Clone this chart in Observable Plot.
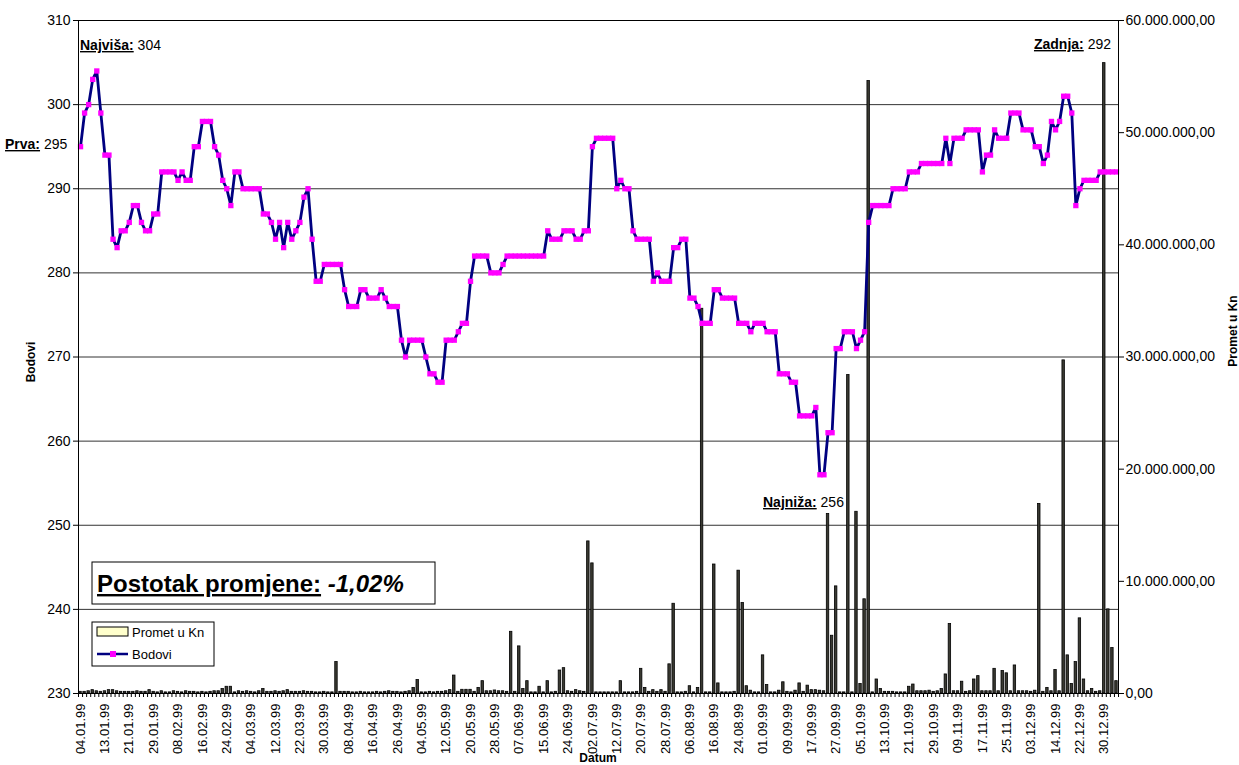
<!DOCTYPE html>
<html><head><meta charset="utf-8">
<script src="https://cdn.jsdelivr.net/npm/d3@7"></script>
<script src="https://cdn.jsdelivr.net/npm/@observablehq/plot@0.6"></script>
<style>body{margin:0;background:#fff} svg{display:block}</style>
</head><body><div id="chart"></div>
<script>
// Bodovi (index points), one per trading day
const bodovi = [
295,299,300,303,304,299,294,294,284,283,
285,285,286,288,288,286,285,285,287,287,
292,292,292,292,291,292,291,291,295,295,
298,298,298,295,294,291,290,288,292,292,
290,290,290,290,290,287,287,286,284,286,
283,286,284,285,286,289,290,284,279,279,
281,281,281,281,281,278,276,276,276,278,
278,277,277,277,278,277,276,276,276,272,
270,272,272,272,272,270,268,268,267,267,
272,272,272,273,274,274,279,282,282,282,
282,280,280,280,281,282,282,282,282,282,
282,282,282,282,282,285,284,284,284,285,
285,285,284,284,285,285,295,296,296,296,
296,296,290,291,290,290,285,284,284,284,
284,279,280,279,279,279,283,283,284,284,
277,277,276,274,274,274,278,278,277,277,
277,277,274,274,274,273,274,274,274,273,
273,273,268,268,268,267,267,263,263,263,
263,264,256,256,261,261,271,271,273,273,
273,271,272,273,286,288,288,288,288,288,
290,290,290,290,292,292,292,293,293,293,
293,293,293,296,293,296,296,296,297,297,
297,297,292,294,294,297,296,296,296,299,
299,299,297,297,297,295,295,293,294,298,
297,298,301,301,299,288,290,291,291,291,
291,292,292,292,292,292
];
// Promet u Kn, in millions of kuna
const prometMil = [
0.15,0.15,0.2,0.3,0.2,0.15,0.2,0.3,0.3,0.2,
0.15,0.15,0.15,0.15,0.2,0.15,0.15,0.3,0.15,0.1,
0.2,0.1,0.1,0.2,0.15,0.1,0.2,0.15,0.15,0.1,
0.15,0.1,0.15,0.2,0.2,0.4,0.6,0.6,0.1,0.2,
0.15,0.2,0.15,0.1,0.2,0.4,0.15,0.15,0.2,0.15,
0.2,0.3,0.15,0.15,0.15,0.2,0.15,0.15,0.1,0.1,
0.15,0.1,0.1,2.8,0.15,0.15,0.15,0.1,0.1,0.15,
0.1,0.1,0.1,0.15,0.1,0.15,0.2,0.15,0.15,0.1,
0.15,0.2,0.5,1.2,0.1,0.1,0.15,0.1,0.15,0.15,
0.2,0.3,1.6,0.15,0.33,0.33,0.33,0.15,0.5,1.1,
0.2,0.2,0.27,0.2,0.2,0.15,5.5,0.15,4.2,0.4,
1.1,0.1,0.1,0.6,0.1,1.1,0.1,0.15,2.05,2.26,
0.2,0.15,0.3,0.2,0.15,13.56,11.6,0.1,0.1,0.1,
0.1,0.1,0.1,1.1,0.1,0.1,0.1,0.15,2.2,0.5,
0.15,0.3,0.15,0.3,0.15,2.6,8.0,0.1,0.1,0.15,
0.65,0.1,0.5,34.3,0.1,0.1,11.5,0.9,0.1,0.1,
0.1,0.15,10.95,8.07,0.65,0.25,0.1,0.1,3.4,0.75,
0.1,0.1,0.25,1.0,0.15,0.1,0.25,0.9,0.15,0.7,
0.3,0.3,0.25,0.2,16.0,5.15,9.55,0.1,0.1,28.4,
0.1,16.2,0.85,8.4,54.6,0.1,1.25,0.4,0.15,0.15,
0.15,0.1,0.1,0.1,0.6,0.8,0.2,0.2,0.2,0.25,
0.15,0.2,0.4,1.7,6.2,0.2,0.2,1.05,0.15,0.2,
1.25,1.55,0.2,0.2,0.2,2.2,0.2,2.0,1.8,0.2,
2.5,0.2,0.2,0.2,0.15,0.25,16.9,0.15,0.5,0.2,
2.1,0.2,29.7,3.4,0.85,2.8,6.7,1.25,0.2,0.4,
0.15,0.2,56.2,7.5,4.05,1.1
];
// Date labels, shown every 6th trading day
const dateLabels = ["04.01.99","13.01.99","21.01.99","29.01.99","08.02.99","16.02.99","24.02.99","04.03.99","12.03.99","22.03.99","30.03.99","08.04.99","16.04.99","26.04.99","04.05.99","12.05.99","20.05.99","28.05.99","07.06.99","15.06.99","24.06.99","02.07.99","12.07.99","20.07.99","28.07.99","06.08.99","16.08.99","24.08.99","01.09.99","09.09.99","17.09.99","27.09.99","05.10.99","13.10.99","21.10.99","29.10.99","09.11.99","17.11.99","25.11.99","03.12.99","14.12.99","22.12.99","30.12.99"];
const labelStep = 6;
const leftTicks = [230,240,250,260,270,280,290,300,310];
const rightTicksMil = [0,10,20,30,40,50,60];

const yMin = 230, yMax = 310, pMax = 60;
const toY = m => yMin + m / pMax * (yMax - yMin);
const fromY = y => (y - yMin) / (yMax - yMin) * pMax;
const fmtKn = m => d3.format(",")(Math.round(m * 1e6)).replace(/,/g, ".") + ",00";

const data = bodovi.map((b, i) => ({i, b, p: prometMil[i]}));
const N = bodovi.length;
const font = "Arial, 'Liberation Sans', sans-serif";

const chart = Plot.plot({
  width: 1239, height: 765,
  marginLeft: 78, marginRight: 121, marginTop: 20, marginBottom: 72,
  style: {fontFamily: font, fontSize: "14px", background: "#fff", color: "#000", overflow: "visible"},
  x: {domain: [-0.5, N - 0.5], axis: null},
  y: {domain: [yMin, yMax], axis: null},
  marks: [
    Plot.gridY(leftTicks.slice(1, -1), {stroke: "#333", strokeOpacity: 1, strokeWidth: 1}),
    Plot.rectY(data, {x1: d => d.i - 0.3, x2: d => d.i + 0.3, y1: yMin, y2: d => toY(d.p), fill: "#3a3a32", stroke: "#000", strokeWidth: 0.8}),
    Plot.line(data, {x: "i", y: "b", stroke: "#000080", strokeWidth: 2.8}),
    Plot.dot(data, {x: "i", y: "b", symbol: "square", r: 3, fill: "#FF00FF", stroke: "none"}),
    Plot.frame({stroke: "#000", strokeWidth: 1}),
    Plot.axisY(leftTicks, {anchor: "left", tickSize: 5, tickPadding: 3, tickFormat: d => String(d), fontSize: 14, label: null}),
    Plot.axisY(rightTicksMil.map(toY), {anchor: "right", tickSize: 5, tickPadding: 2, tickFormat: v => fmtKn(fromY(v)), fontSize: 14, label: null}),
    Plot.axisX(d3.range(N + 1).map(i => i - 0.5), {tickSize: 4, tickFormat: () => "", label: null}),
    Plot.axisX(dateLabels.map((_, k) => k * labelStep), {tickSize: 0, tickPadding: 10, tickRotate: -90, tickFormat: v => dateLabels[v / labelStep], fontSize: 13, label: null})
  ]
});
document.getElementById("chart").appendChild(chart);

const svg = d3.select(chart);
function rich(x, y, parts, anchor, size) {
  const t = svg.append("text").attr("x", x).attr("y", y)
    .attr("text-anchor", anchor || "start")
    .style("font-family", font).style("font-size", (size || 14) + "px").attr("fill", "#000");
  for (const p of parts) {
    const s = t.append("tspan").text(p.t);
    if (p.b) s.style("font-weight", "bold");
    if (p.u) s.style("text-decoration", "underline");
    if (p.i) s.style("font-style", "italic");
  }
  return t;
}
rich(80, 50, [{t: "Najviša:", b: 1, u: 1}, {t: " 304"}]);
rich(5, 149, [{t: "Prva:", b: 1, u: 1}, {t: " 295"}]);
rich(1111, 49, [{t: "Zadnja:", b: 1, u: 1}, {t: " 292"}], "end");
rich(763, 507, [{t: "Najniža:", b: 1, u: 1}, {t: " 256"}]);

// percentage box
svg.append("rect").attr("x", 92).attr("y", 562).attr("width", 343).attr("height", 42)
  .attr("fill", "#fff").attr("stroke", "#000").attr("stroke-width", 1);
rich(97, 592, [{t: "Postotak promjene:", b: 1, u: 1}, {t: " "}, {t: "-1,02%", b: 1, i: 1}], "start", 24);

// legend
const lg = svg.append("g");
lg.append("rect").attr("x", 92).attr("y", 622).attr("width", 122).attr("height", 44)
  .attr("fill", "#fff").attr("stroke", "#000").attr("stroke-width", 1);
lg.append("rect").attr("x", 97).attr("y", 627).attr("width", 31).attr("height", 9)
  .attr("fill", "#FFFFCC").attr("stroke", "#000").attr("stroke-width", 1);
lg.append("line").attr("x1", 97).attr("x2", 128).attr("y1", 654).attr("y2", 654)
  .attr("stroke", "#000080").attr("stroke-width", 2.5);
lg.append("rect").attr("x", 110).attr("y", 651).attr("width", 6).attr("height", 6).attr("fill", "#FF00FF");
rich(132, 637, [{t: "Promet u Kn"}], "start", 13);
rich(132, 659, [{t: "Bodovi"}], "start", 13);

// axis titles
svg.append("text").attr("transform", "translate(35,362) rotate(-90)").attr("text-anchor", "middle")
  .style("font-family", font).style("font-size", "12px").style("font-weight", "bold").text("Bodovi");
svg.append("text").attr("transform", "translate(1237,331) rotate(-90)").attr("text-anchor", "middle")
  .style("font-family", font).style("font-size", "12px").style("font-weight", "bold").text("Promet u Kn");
svg.append("text").attr("x", 598).attr("y", 762).attr("text-anchor", "middle")
  .style("font-family", font).style("font-size", "12px").style("font-weight", "bold").text("Datum");
</script>
</body></html>
